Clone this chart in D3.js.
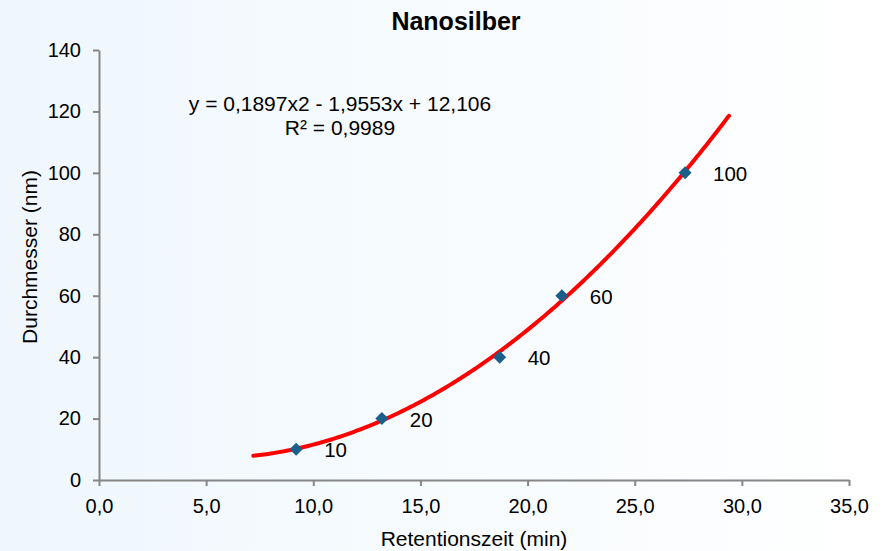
<!DOCTYPE html>
<html><head><meta charset="utf-8">
<script src="https://cdn.jsdelivr.net/npm/d3@7"></script>
<style>body{margin:0;}svg{display:block;font-family:"Liberation Sans",Arial,sans-serif;}</style>
</head><body>
<script>
const retention = [9.2, 13.2, 18.7, 21.6, 27.35];
const diameter = [10, 20, 40, 60, 100];
const pointLabels = ["10", "20", "40", "60", "100"];
const fitCoef = [0.1897, -1.9553, 12.106];
const fitRange = [7.2, 29.4];
const xTicks = [0, 5, 10, 15, 20, 25, 30, 35];
const yTicks = [0, 20, 40, 60, 80, 100, 120, 140];

const W = 884, H = 551;
const svg = d3.select("body").append("svg").attr("width", W).attr("height", H);
const defs = svg.append("defs");
const g = defs.append("linearGradient").attr("id", "bg").attr("x1", "0").attr("x2", "1").attr("y1", "0").attr("y2", "0");
g.append("stop").attr("offset", "0").attr("stop-color", "#eff7fd");
g.append("stop").attr("offset", "1").attr("stop-color", "#ffffff");
svg.append("rect").attr("width", W).attr("height", H).attr("fill", "url(#bg)");

const x = d3.scaleLinear().domain([0, 35]).range([99, 849]);
const y = d3.scaleLinear().domain([0, 140]).range([480, 50]);

const xAxis = svg.append("g").attr("transform", "translate(0,480)")
  .call(d3.axisBottom(x).tickValues(xTicks).tickSize(6).tickSizeOuter(0).tickPadding(13)
    .tickFormat(d => d3.format(".1f")(d).replace(".", ",")));
const yAxis = svg.append("g").attr("transform", "translate(99,0)")
  .call(d3.axisLeft(y).tickValues(yTicks).tickSize(6).tickSizeOuter(0).tickPadding(12));
[xAxis, yAxis].forEach(a => {
  a.selectAll("path,line").attr("stroke", "#868686").attr("stroke-width", 2);
  a.selectAll("text").attr("font-size", 20).attr("fill", "#000").attr("font-family", "Liberation Sans, Arial, sans-serif");
});

// trendline
const fx = t => fitCoef[0]*t*t + fitCoef[1]*t + fitCoef[2];
const curve = d3.range(fitRange[0], fitRange[1] + 0.001, 0.1).map(t => [t, fx(t)]);
svg.append("path").datum(curve)
  .attr("d", d3.line().x(d => x(d[0])).y(d => y(d[1])))
  .attr("fill", "none").attr("stroke", "#ff0000").attr("stroke-width", 4).attr("stroke-linecap", "round");

// points (diamonds)
const r = 6.5;
svg.selectAll(".pt").data(retention).enter().append("path")
  .attr("d", `M0,${-r}L${r},0L0,${r}L${-r},0Z`)
  .attr("transform", (d, i) => `translate(${x(d)},${y(diameter[i])})`)
  .attr("fill", "#1b5e8a");

svg.selectAll(".lbl").data(retention).enter().append("text")
  .attr("x", d => x(d) + 28).attr("y", (d, i) => y(diameter[i]) + 8)
  .attr("font-size", 20.5).text((d, i) => pointLabels[i]);

// title & labels
svg.append("text").attr("x", 456).attr("y", 30).attr("text-anchor", "middle")
  .attr("font-size", 25).attr("font-weight", "bold").text("Nanosilber");
svg.append("text").attr("x", 474).attr("y", 546).attr("text-anchor", "middle")
  .attr("font-size", 21).text("Retentionszeit (min)");
svg.append("text").attr("transform", "translate(37,257) rotate(-90)").attr("text-anchor", "middle")
  .attr("font-size", 21).text("Durchmesser (nm)");

svg.append("text").attr("x", 340).attr("y", 111).attr("text-anchor", "middle")
  .attr("font-size", 21).text("y = 0,1897x2 - 1,9553x + 12,106");
svg.append("text").attr("x", 340).attr("y", 135).attr("text-anchor", "middle")
  .attr("font-size", 21).text("R² = 0,9989");
</script>
</body></html>
